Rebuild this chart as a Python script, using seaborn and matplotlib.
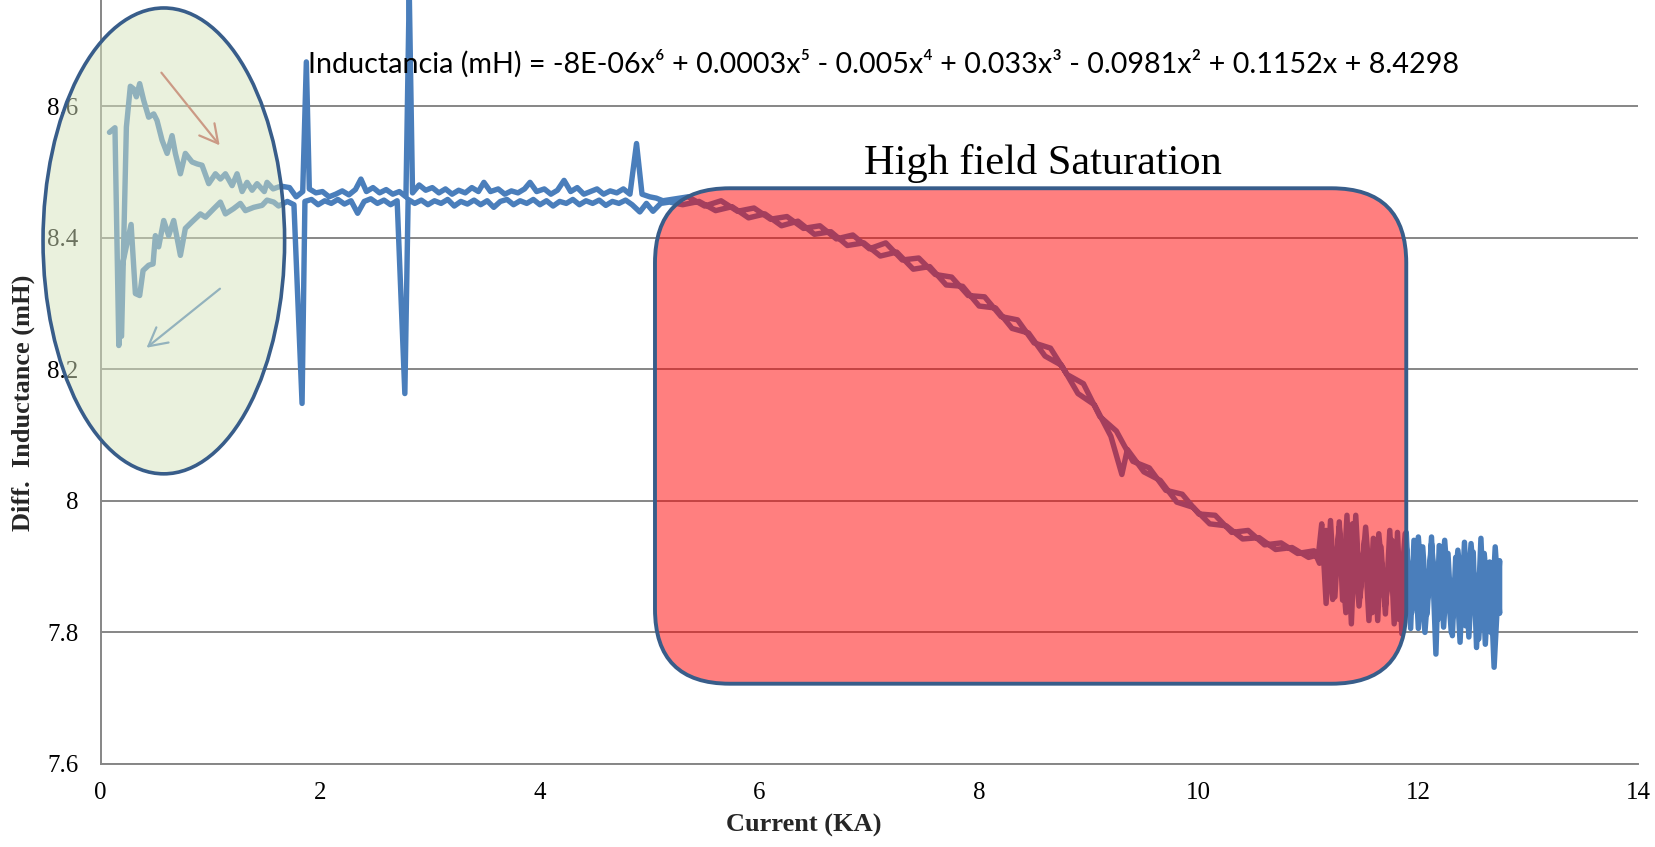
import pandas as pd
import matplotlib
matplotlib.use("Agg")
import matplotlib.pyplot as plt
import seaborn as sns
from matplotlib.patches import Ellipse, FancyBboxPatch
from matplotlib.ticker import FuncFormatter

# ramp up (lower branch at low current)
ramp_up_current = [
    0.08, 0.13, 0.165, 0.18, 0.277, 0.316, 0.355, 0.386, 0.437, 0.477, 0.498, 0.528,
    0.574, 0.619, 0.665, 0.726, 0.771, 0.832, 0.908, 0.954, 1.03, 1.09, 1.136, 1.21,
    1.272, 1.318, 1.394, 1.47, 1.515, 1.576, 1.62,
    1.70, 1.76, 1.834, 1.86, 1.92, 1.98, 2.04, 2.10, 2.16, 2.22, 2.28, 2.34, 2.40,
    2.46, 2.52, 2.58, 2.64, 2.70, 2.77, 2.80, 2.86, 2.92, 2.98, 3.04, 3.10, 3.16,
    3.22, 3.28, 3.34, 3.40, 3.46, 3.52, 3.58, 3.64, 3.70, 3.76, 3.82, 3.88, 3.94,
    4.00, 4.06, 4.12, 4.18, 4.24, 4.30, 4.36, 4.42, 4.48, 4.54, 4.60, 4.66, 4.72,
    4.78, 4.84, 4.91, 4.97, 5.03, 5.10, 5.18,
    5.30, 5.45, 5.60, 5.75, 5.90, 6.05, 6.20, 6.35, 6.50, 6.65, 6.80, 6.95, 7.10,
    7.25, 7.40, 7.55, 7.70, 7.85, 8.00, 8.15, 8.30, 8.45, 8.60, 8.75, 8.90, 9.05,
    9.20, 9.30, 9.35, 9.50, 9.65, 9.80, 9.95, 10.10, 10.25, 10.40, 10.55, 10.70,
    10.85, 11.00, 11.09,
    11.12, 11.16, 11.20, 11.24, 11.28, 11.31, 11.35, 11.39, 11.43, 11.47, 11.51,
    11.55, 11.59, 11.63, 11.66, 11.70, 11.74, 11.78, 11.81, 11.85, 11.89, 11.93,
    11.96, 12.00, 12.04, 12.08, 12.12, 12.16, 12.19, 12.23, 12.27, 12.31, 12.34,
    12.38, 12.42, 12.46, 12.50, 12.53, 12.57, 12.61, 12.65, 12.69, 12.74,
]
ramp_up_inductance = [
    8.560, 8.567, 8.236, 8.345, 8.420, 8.315, 8.312, 8.350, 8.358, 8.360, 8.403, 8.386,
    8.426, 8.403, 8.426, 8.373, 8.414, 8.424, 8.436, 8.431, 8.444, 8.454, 8.436, 8.444,
    8.452, 8.441, 8.446, 8.449, 8.457, 8.454, 8.448,
    8.455, 8.450, 8.148, 8.455, 8.458, 8.450, 8.456, 8.452, 8.458, 8.451, 8.456, 8.437, 8.455,
    8.459, 8.452, 8.457, 8.450, 8.456, 8.163, 8.458, 8.452, 8.457, 8.450, 8.456, 8.452, 8.458,
    8.448, 8.455, 8.451, 8.457, 8.450, 8.456, 8.446, 8.455, 8.458, 8.450, 8.456, 8.452, 8.458,
    8.450, 8.456, 8.448, 8.455, 8.452, 8.458, 8.450, 8.456, 8.452, 8.457, 8.449, 8.455, 8.452,
    8.457, 8.450, 8.439, 8.452, 8.440, 8.452, 8.454,
    8.450, 8.455, 8.441, 8.447, 8.430, 8.436, 8.418, 8.425, 8.405, 8.409, 8.388, 8.392, 8.372,
    8.378, 8.352, 8.356, 8.328, 8.326, 8.296, 8.293, 8.262, 8.255, 8.220, 8.206, 8.163, 8.146,
    8.098, 8.040, 8.078, 8.044, 8.031, 7.998, 7.990, 7.965, 7.962, 7.942, 7.944, 7.926,
    7.929, 7.914, 7.918,
    7.965, 7.844, 7.970, 7.854, 7.968, 7.849, 7.978, 7.813, 7.978, 7.854, 7.940,
    7.818, 7.943, 7.818, 7.930, 7.828, 7.955, 7.813, 7.952, 7.798, 7.952, 7.806,
    7.940, 7.806, 7.930, 7.828, 7.945, 7.767, 7.932, 7.808, 7.920, 7.795, 7.914,
    7.785, 7.937, 7.793, 7.922, 7.777, 7.943, 7.782, 7.907, 7.747, 7.909,
]

# ramp down (upper branch at low current), listed by increasing current
ramp_down_current = [
    0.19, 0.234, 0.27, 0.30, 0.325, 0.355, 0.391, 0.437, 0.483, 0.513, 0.559, 0.605,
    0.65, 0.68, 0.726, 0.771, 0.832, 0.878, 0.923, 0.984, 1.045, 1.09, 1.136, 1.197,
    1.242, 1.288, 1.333, 1.379, 1.424, 1.49, 1.515, 1.57, 1.62,
    1.65, 1.72, 1.78, 1.84, 1.873, 1.90, 1.96, 2.02, 2.08, 2.14, 2.20, 2.26, 2.32,
    2.37, 2.42, 2.48, 2.54, 2.60, 2.66, 2.72, 2.78, 2.81, 2.84, 2.90, 2.96, 3.02,
    3.08, 3.14, 3.20, 3.26, 3.32, 3.38, 3.44, 3.49, 3.55, 3.62, 3.68, 3.74, 3.80,
    3.86, 3.91, 3.97, 4.04, 4.10, 4.16, 4.22, 4.28, 4.34, 4.40, 4.46, 4.52, 4.58,
    4.64, 4.70, 4.76, 4.82, 4.88, 4.93, 5.00, 5.06, 5.12, 5.20,
    5.35, 5.50, 5.65, 5.80, 5.95, 6.10, 6.25, 6.40, 6.55, 6.70, 6.85, 7.00, 7.15,
    7.30, 7.45, 7.60, 7.75, 7.90, 8.05, 8.20, 8.35, 8.50, 8.65, 8.80, 8.95, 9.10,
    9.25, 9.40, 9.55, 9.70, 9.85, 10.00, 10.15, 10.30, 10.45, 10.60, 10.75, 10.90, 11.05,
    11.10, 11.16, 11.22, 11.28, 11.34, 11.40, 11.46, 11.52, 11.58, 11.64, 11.70,
    11.76, 11.82, 11.88, 11.94, 12.00, 12.06, 12.12, 12.18, 12.24, 12.30, 12.36,
    12.43, 12.48, 12.55, 12.60, 12.66, 12.70, 12.74,
]
ramp_down_inductance = [
    8.250, 8.568, 8.630, 8.626, 8.614, 8.634, 8.609, 8.583, 8.588, 8.578, 8.548, 8.528,
    8.555, 8.528, 8.497, 8.528, 8.515, 8.512, 8.510, 8.482, 8.497, 8.489, 8.497, 8.479,
    8.497, 8.470, 8.484, 8.472, 8.482, 8.470, 8.484, 8.474, 8.477,
    8.478, 8.476, 8.462, 8.470, 8.667, 8.474, 8.468, 8.470, 8.462, 8.466, 8.471, 8.465, 8.473,
    8.489, 8.470, 8.476, 8.468, 8.473, 8.466, 8.470, 8.462, 8.775, 8.468, 8.480, 8.472, 8.476,
    8.468, 8.474, 8.466, 8.472, 8.468, 8.476, 8.470, 8.484, 8.470, 8.474, 8.466, 8.471, 8.468,
    8.474, 8.484, 8.470, 8.474, 8.466, 8.472, 8.487, 8.470, 8.476, 8.466, 8.470, 8.474, 8.466,
    8.471, 8.468, 8.474, 8.466, 8.543, 8.466, 8.462, 8.460, 8.456, 8.458,
    8.462, 8.448, 8.456, 8.440, 8.445, 8.428, 8.432, 8.414, 8.418, 8.398, 8.404, 8.383, 8.392,
    8.366, 8.369, 8.344, 8.340, 8.312, 8.310, 8.280, 8.275, 8.240, 8.232, 8.192, 8.178, 8.128,
    8.106, 8.060, 8.050, 8.016, 8.010, 7.980, 7.978, 7.952, 7.955, 7.933, 7.936, 7.920, 7.924,
    7.905, 7.955, 7.850, 7.960, 7.830, 7.965, 7.840, 7.960, 7.830, 7.950, 7.840,
    7.940, 7.820, 7.950, 7.830, 7.945, 7.800, 7.935, 7.820, 7.940, 7.800, 7.925,
    7.810, 7.935, 7.790, 7.920, 7.800, 7.930, 7.829,
]

x_ticks = [0, 2, 4, 6, 8, 10, 12, 14]
y_ticks = [7.6, 7.8, 8.0, 8.2, 8.4, 8.6]

equation = ("Inductancia (mH) = -8E-06x\u2076 + 0.0003x\u2075 - 0.005x\u2074 + 0.033x\u00b3"
            " - 0.0981x\u00b2 + 0.1152x + 8.4298")

sns.set_theme(style="white")
plt.rcParams['font.family'] = ['Liberation Serif', 'DejaVu Serif']

df = pd.DataFrame({
    "Current (KA)": ramp_up_current + ramp_down_current[::-1],
    "Inductance": ramp_up_inductance + ramp_down_inductance[::-1],
})

fig = plt.figure(figsize=(16.56, 8.47), dpi=100)
ax = fig.add_axes([0.0608, 0.0980, 0.9283, 0.9322])

sns.lineplot(data=df, x="Current (KA)", y="Inductance", sort=False, estimator=None,
             color="#4A7EBB", linewidth=3.9, ax=ax, zorder=2)

ax.set_xlim(0, 14)
ax.set_ylim(7.6, 8.8)
ax.set_xticks(x_ticks)
ax.set_yticks(y_ticks)
ax.yaxis.set_major_formatter(FuncFormatter(lambda v, p: f"{v:g}"))
ax.tick_params(axis='x', length=0, pad=13, labelsize=18, labelcolor='black')
ax.tick_params(axis='y', length=0, pad=16, labelsize=18, labelcolor='black')
ax.grid(axis='y', color='#868686', linewidth=1.4)
ax.grid(axis='x', visible=False)
for s in ['top', 'right']:
    ax.spines[s].set_visible(False)
for s in ['left', 'bottom']:
    ax.spines[s].set_color('#868686')
    ax.spines[s].set_linewidth(1.4)

ax.set_xlabel("Current (KA)", fontsize=19, fontweight='bold', va='baseline')
ax.xaxis.set_label_coords(0.4575, -0.0857)
ax.set_ylabel("Diff.  Inductance (mH)", fontsize=19, fontweight='bold', va='center')
ax.yaxis.set_label_coords(-0.0505, 0.457)

# arrows inside the low-current region (under the ellipse)
ax.annotate('', xy=(1.099, 8.537), xytext=(0.537, 8.654),
            arrowprops=dict(arrowstyle='->,head_length=0.65,head_width=0.35',
                            color='#C0504D', lw=1.6, mutation_scale=20),
            zorder=2.5)
ax.annotate('', xy=(0.398, 8.230), xytext=(1.106, 8.325),
            arrowprops=dict(arrowstyle='->,head_length=0.65,head_width=0.35',
                            color='#4F81BD', lw=1.6, mutation_scale=20),
            zorder=2.5)

ell = Ellipse((0.575, 8.395), 2.2, 0.708, facecolor=(0.843, 0.894, 0.741, 0.5),
              edgecolor='#385D8A', linewidth=2.6, zorder=3, clip_on=False)
ax.add_patch(ell)

rect = FancyBboxPatch((5.048, 7.722), 11.89 - 5.048, 8.475 - 7.722,
                      boxstyle="round,pad=0,rounding_size=0.68", mutation_aspect=0.167,
                      facecolor=(1.0, 0.0, 0.0, 0.5), edgecolor='#385D8A',
                      linewidth=2.8, zorder=3)
ax.add_patch(rect)

ax.text(8.585, 8.496, "High field Saturation", fontsize=30.5, ha='center',
        va='baseline', color='black', zorder=5)

eq = ax.text(1.89, 8.651, equation, fontsize=19, family=['Lato', 'DejaVu Sans'],
             ha='left', va='baseline', color='black', zorder=6)
fig.canvas.draw()
w = eq.get_window_extent().width
eq.set_fontsize(19 * 1149 / w)

fig.savefig('out.png', dpi=100)
